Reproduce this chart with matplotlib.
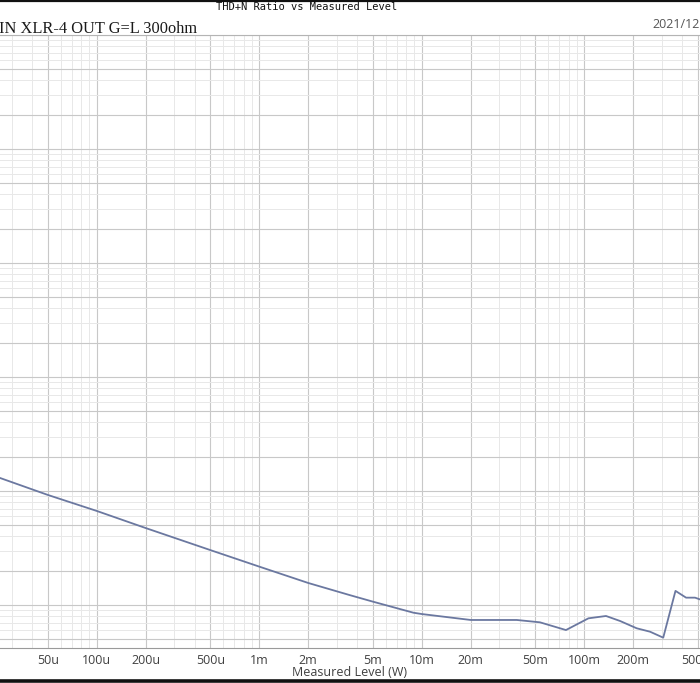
import matplotlib
matplotlib.use("Agg")
import matplotlib.pyplot as plt
from matplotlib.lines import Line2D
from matplotlib.ticker import FixedLocator, LogLocator, NullFormatter

# THD+N ratio (%) against measured output level (W)
level_w = [2.54e-5, 5.0e-5, 1.0e-4, 2.0e-4, 5.0e-4, 1.0e-3, 2.0e-3, 3.61e-3,
           5.0e-3, 8.87e-3, 1.0e-2, 2.0e-2, 3.84e-2, 5.33e-2, 7.71e-2, 0.106,
           0.136, 0.166, 0.210, 0.254, 0.306, 0.364, 0.423, 0.480, 0.515]
thdn_pct = [1.30e-3, 9.23e-4, 6.68e-4, 4.73e-4, 3.03e-4, 2.17e-4, 1.56e-4,
            1.22e-4, 1.07e-4, 8.56e-5, 8.33e-5, 7.39e-5, 7.39e-5, 7.05e-5,
            6.03e-5, 7.64e-5, 8.01e-5, 7.24e-5, 6.25e-5, 5.83e-5, 5.17e-5,
            1.33e-4, 1.16e-4, 1.16e-4, 1.12e-4]

x_ticks = [20e-6, 50e-6, 100e-6, 200e-6, 500e-6, 1e-3, 2e-3, 5e-3,
           10e-3, 20e-3, 50e-3, 100e-3, 200e-3, 500e-3]
x_tick_labels = ["20u", "50u", "100u", "200u", "500u", "1m", "2m", "5m",
                 "10m", "20m", "50m", "100m", "200m", "500m"]

TITLE = "THD+N Ratio vs Measured Level"
SUBTITLE = "IN XLR-4 OUT G=L 300ohm"
DATE = "2021/12"

W, H = 700, 683
fig = plt.figure(figsize=(W / 100, H / 100), dpi=100)
ax = fig.add_axes([0, (H - 648) / H, 1, (648 - 35) / H])

ax.plot(level_w, thdn_pct, color="#6b78a0", lw=1.3, zorder=3)

ax.set_xscale("log")
ax.set_yscale("log")
ax.set_xlim(10 ** -4.596, 10 ** -0.288)
ax.set_ylim(10 ** (1 - 613 / 114), 10)

ax.xaxis.set_major_locator(FixedLocator(x_ticks))
ax.set_xticklabels(x_tick_labels)
ax.xaxis.set_minor_locator(LogLocator(base=10, subs=(3, 4, 6, 7, 8, 9), numticks=30))
ax.xaxis.set_minor_formatter(NullFormatter())
ax.yaxis.set_major_locator(LogLocator(base=10, subs=(1, 2, 5), numticks=30))
ax.yaxis.set_minor_locator(LogLocator(base=10, subs=(3, 4, 6, 7, 8, 9), numticks=30))
ax.yaxis.set_major_formatter(NullFormatter())
ax.yaxis.set_minor_formatter(NullFormatter())

ax.grid(which="major", color="#c8c8c8", lw=0.8)
ax.grid(which="minor", color="#e8e8e8", lw=0.7)
ax.set_axisbelow(True)

ax.tick_params(which="both", length=0)
ax.tick_params(axis="x", pad=4.5, labelsize=9, labelcolor="#404040")
for lab in ax.get_xticklabels():
    lab.set_fontfamily("Open Sans")
ax.set_xlabel("Measured Level (W)", fontsize=9, color="#404040",
              family="Open Sans", labelpad=-1)

for side in ("left", "right"):
    ax.spines[side].set_visible(False)
ax.spines["top"].set_color("#b4b4b4")
ax.spines["bottom"].set_color("#9a9a9a")

fig.text(307 / W, 1 - 7 / H, TITLE, ha="center", va="center",
         family="DejaVu Sans Mono", fontsize=7.5, color="#111111")
fig.text(-1 / W, 1 - 33 / H, SUBTITLE, ha="left", va="baseline",
         family="Liberation Serif", fontsize=11.8, color="#1a1a1a")
fig.text(652 / W, 1 - 24 / H, DATE, ha="left", va="center",
         family="Open Sans", fontsize=9, color="#555555")

# dark frame edges of the screenshot
fig.add_artist(Line2D([0, 1], [1 - 1 / H, 1 - 1 / H], color="#111111", lw=1.6))
fig.add_artist(Line2D([0, 1], [1.8 / H, 1.8 / H], color="#111111", lw=2.6))

fig.savefig("out.png", dpi=100)
